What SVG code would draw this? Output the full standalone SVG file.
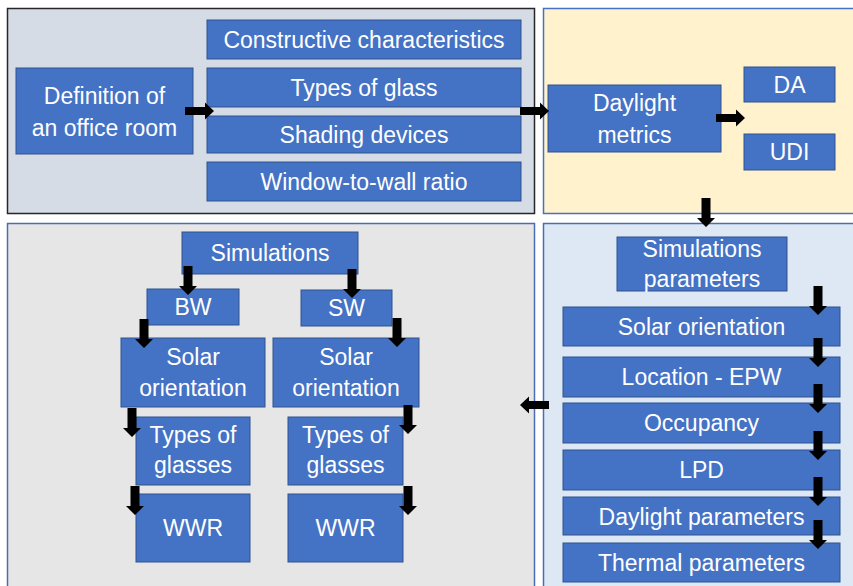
<svg xmlns="http://www.w3.org/2000/svg" xmlns:xlink="http://www.w3.org/1999/xlink" width="853" height="586" viewBox="0 0 853 586">
<style>
.panel{stroke-width:1.5}
.box{fill:#4472c4;stroke:#2f528f;stroke-width:1}
.t{font-family:"Liberation Sans",Arial,sans-serif;font-size:23px;fill:#ffffff;text-anchor:middle}
.arr{fill:#000000}
</style>
<defs>
<path id="ad" d="M-4.5,0 H4.5 V20 H9 L0,29 L-9,20 H-4.5 Z"/>
<path id="ar" d="M0,-4 H20 V-8.5 L29,0 L20,8.5 V4 H0 Z"/>
<path id="al" d="M0,-4 H-20 V-8.5 L-29,0 L-20,8.5 V4 H0 Z"/>
</defs>
<rect width="853" height="586" fill="#ffffff"/>
<g id="panels">
<rect class="panel" x="7.5" y="8.5" width="527" height="205" fill="#d6dce5" stroke="#262626"/>
<rect class="panel" x="543.5" y="8.5" width="312" height="205" fill="#fff2cc" stroke="#4472c4"/>
<rect class="panel" x="7.5" y="223.5" width="527" height="370" fill="#e7e6e6" stroke="#4a6db5"/>
<rect class="panel" x="543.5" y="223.5" width="312" height="370" fill="#dee8f5" stroke="#4a6db5"/>
</g>
<g id="n-definition"><rect class="box" x="16" y="68" width="177" height="86"/><text class="t" x="104.5" y="104">Definition of</text><text class="t" x="104.5" y="136">an office room</text></g>
<g id="n-constructive"><rect class="box" x="207" y="20" width="314" height="39"/><text class="t" x="364" y="48">Constructive characteristics</text></g>
<g id="n-glass"><rect class="box" x="207" y="68" width="314" height="39"/><text class="t" x="364" y="96">Types of glass</text></g>
<g id="n-shading"><rect class="box" x="207" y="116" width="314" height="37"/><text class="t" x="364" y="143">Shading devices</text></g>
<g id="n-wwr-top"><rect class="box" x="207" y="162" width="314" height="39"/><text class="t" x="364" y="190">Window-to-wall ratio</text></g>
<g id="n-daylight"><rect class="box" x="548" y="85" width="173" height="67"/><text class="t" x="634.5" y="111">Daylight</text><text class="t" x="634.5" y="143">metrics</text></g>
<g id="n-da"><rect class="box" x="744" y="67" width="91" height="35"/><text class="t" x="789.5" y="93">DA</text></g>
<g id="n-udi"><rect class="box" x="744" y="134" width="91" height="36"/><text class="t" x="789.5" y="160">UDI</text></g>
<g id="n-simparams"><rect class="box" x="617" y="237" width="170" height="54"/><text class="t" x="702" y="257">Simulations</text><text class="t" x="702" y="287">parameters</text></g>
<g id="n-solar"><rect class="box" x="563" y="307" width="277" height="39"/><text class="t" x="701.5" y="335">Solar orientation</text></g>
<g id="n-location"><rect class="box" x="563" y="357" width="277" height="40"/><text class="t" x="701.5" y="385">Location - EPW</text></g>
<g id="n-occupancy"><rect class="box" x="563" y="403" width="277" height="40"/><text class="t" x="701.5" y="431">Occupancy</text></g>
<g id="n-lpd"><rect class="box" x="563" y="450" width="277" height="40"/><text class="t" x="701.5" y="478">LPD</text></g>
<g id="n-dayparams"><rect class="box" x="563" y="497" width="277" height="38"/><text class="t" x="701.5" y="525">Daylight parameters</text></g>
<g id="n-thermal"><rect class="box" x="563" y="543" width="277" height="39"/><text class="t" x="701.5" y="571">Thermal parameters</text></g>
<g id="n-simulations"><rect class="box" x="182" y="232" width="176" height="42"/><text class="t" x="270" y="261">Simulations</text></g>
<g id="n-bw"><rect class="box" x="147" y="289" width="92" height="36"/><text class="t" x="193" y="315">BW</text></g>
<g id="n-sw"><rect class="box" x="301" y="290" width="91" height="36"/><text class="t" x="346.5" y="316">SW</text></g>
<g id="n-solar-l"><rect class="box" x="121" y="338" width="144" height="69"/><text class="t" x="193" y="365">Solar</text><text class="t" x="193" y="396">orientation</text></g>
<g id="n-solar-r"><rect class="box" x="273" y="338" width="146" height="69"/><text class="t" x="346" y="365">Solar</text><text class="t" x="346" y="396">orientation</text></g>
<g id="n-glasses-l"><rect class="box" x="136" y="417" width="114" height="68"/><text class="t" x="193" y="443">Types of</text><text class="t" x="193" y="473">glasses</text></g>
<g id="n-glasses-r"><rect class="box" x="288" y="417" width="115" height="68"/><text class="t" x="345.5" y="443">Types of</text><text class="t" x="345.5" y="473">glasses</text></g>
<g id="n-wwr-l"><rect class="box" x="136" y="494" width="114" height="68"/><text class="t" x="193" y="536">WWR</text></g>
<g id="n-wwr-r"><rect class="box" x="288" y="494" width="115" height="68"/><text class="t" x="345.5" y="536">WWR</text></g>
<g id="connectors" class="arr">
<use href="#ar" x="185" y="111"/>
<use href="#ar" x="520" y="111"/>
<use href="#ar" x="716" y="118"/>
<use href="#ad" x="706" y="198"/>
<use href="#al" x="549" y="405"/>
<use href="#ad" x="818" y="286"/>
<use href="#ad" x="818" y="338"/>
<use href="#ad" x="818" y="384"/>
<use href="#ad" x="818" y="431"/>
<use href="#ad" x="818" y="477"/>
<use href="#ad" x="818" y="520"/>
<use href="#ad" x="188" y="266"/>
<use href="#ad" x="352" y="269"/>
<use href="#ad" x="144" y="319"/>
<use href="#ad" x="397" y="318"/>
<use href="#ad" x="132" y="408"/>
<use href="#ad" x="408" y="405"/>
<use href="#ad" x="135" y="486"/>
<use href="#ad" x="408" y="486"/>
</g>
</svg>
